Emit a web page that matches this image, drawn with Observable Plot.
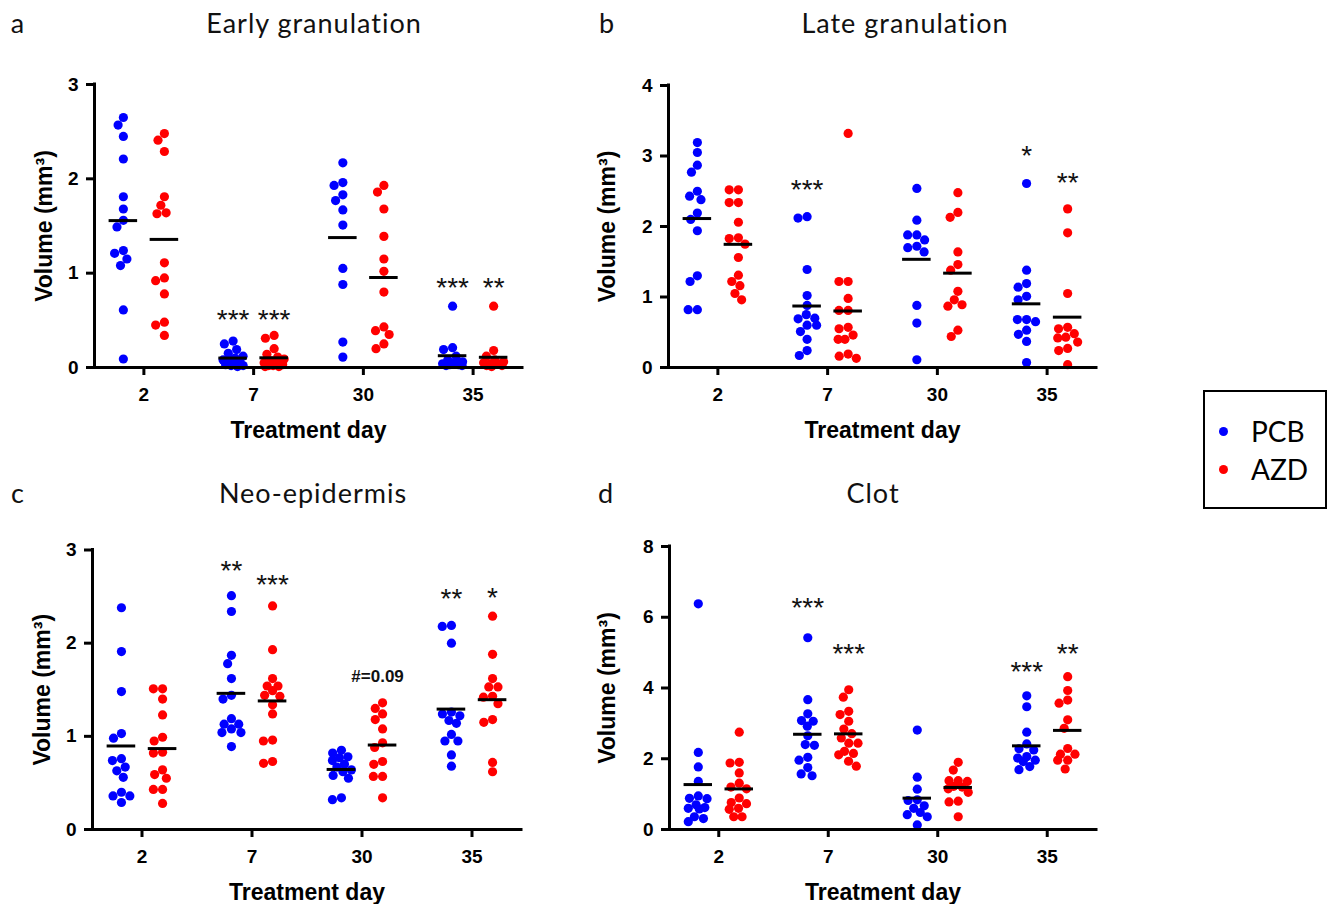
<!DOCTYPE html>
<html>
<head>
<meta charset="utf-8">
<script src="https://cdn.jsdelivr.net/npm/d3@7"></script>
<script src="https://cdn.jsdelivr.net/npm/@observablehq/plot@0.6"></script>
<style>
  html, body { margin: 0; padding: 0; background: #fff; }
  body { width: 1328px; height: 904px; position: relative; overflow: hidden; font-family: "Liberation Sans", Arial, sans-serif; color: #000; }
  .panel { position: absolute; }
  .panel svg { overflow: visible; }
  .title { position: absolute; font-family: Lato, "Open Sans", sans-serif; font-size: 27px; letter-spacing: 1px; color: #111; transform: translate(-50%, -50%); white-space: nowrap; }
  .legend { position: absolute; left: 1203px; top: 390px; width: 124px; height: 119px; border: 2px solid #000; box-sizing: border-box; background: #fff; }
  .legend .row { position: absolute; left: 0; display: flex; align-items: center; font-family: Lato, "Open Sans", sans-serif; font-size: 28px; }
  .legend .sw { width: 9px; height: 9px; border-radius: 50%; margin-left: 14px; margin-right: 23px; }
</style>
</head>
<body>
<div id="root"></div>
<script>
// ---------- data ----------
const days = ["2", "7", "30", "35"];
const treatments = ["PCB", "AZD"];
const treatmentColors = ["#0000ff", "#ff0000"];

// Early granulation volume (mm³), one list per treatment day
const earlyPCB = [
  [2.65, 2.57, 2.45, 2.21, 1.81, 1.68, 1.56, 1.49, 1.24, 1.21, 1.15, 1.08, 0.61, 0.09],
  [0.28, 0.25, 0.19, 0.15, 0.12, 0.10, 0.08, 0.06, 0.05, 0.04, 0.03, 0.02, 0.02, 0.01],
  [2.17, 1.96, 1.93, 1.83, 1.77, 1.67, 1.51, 1.05, 0.88, 0.27, 0.11],
  [0.65, 0.21, 0.19, 0.12, 0.08, 0.06, 0.05, 0.04, 0.03, 0.03, 0.02, 0.02]
];
const earlyAZD = [
  [2.48, 2.41, 2.29, 1.81, 1.72, 1.64, 1.63, 1.11, 0.95, 0.92, 0.78, 0.48, 0.45, 0.34],
  [0.34, 0.31, 0.20, 0.14, 0.11, 0.09, 0.07, 0.05, 0.04, 0.03, 0.02, 0.02, 0.01, 0.01],
  [1.93, 1.86, 1.68, 1.39, 1.15, 1.02, 0.80, 0.43, 0.39, 0.35, 0.25, 0.20],
  [0.65, 0.18, 0.12, 0.08, 0.06, 0.05, 0.04, 0.04, 0.03, 0.02, 0.02, 0.01]
];
const earlySig = [
  {day: "7", group: "PCB", label: "***", at: 0.55},
  {day: "7", group: "AZD", label: "***", at: 0.55},
  {day: "35", group: "PCB", label: "***", at: 0.88},
  {day: "35", group: "AZD", label: "**", at: 0.88}
];

// Late granulation
const latePCB = [
  [3.19, 3.05, 2.87, 2.77, 2.50, 2.43, 2.38, 2.19, 2.10, 1.94, 1.30, 1.22, 0.82, 0.82],
  [2.14, 2.12, 1.39, 1.02, 0.88, 0.75, 0.70, 0.69, 0.60, 0.60, 0.51, 0.40, 0.24, 0.17],
  [2.54, 2.09, 1.88, 1.88, 1.81, 1.72, 1.70, 1.64, 0.88, 0.63, 0.11],
  [2.61, 1.38, 1.19, 1.14, 1.01, 0.96, 0.68, 0.68, 0.65, 0.53, 0.47, 0.37, 0.07]
];
const lateAZD = [
  [2.52, 2.52, 2.34, 2.34, 2.06, 1.84, 1.83, 1.75, 1.56, 1.31, 1.22, 1.16, 1.05, 0.96],
  [3.32, 1.22, 1.22, 0.98, 0.81, 0.81, 0.57, 0.55, 0.46, 0.40, 0.40, 0.19, 0.16, 0.13],
  [2.48, 2.20, 2.13, 1.64, 1.46, 1.38, 1.08, 0.96, 0.89, 0.87, 0.53, 0.44],
  [2.25, 1.91, 1.05, 0.57, 0.55, 0.48, 0.43, 0.42, 0.36, 0.27, 0.24, 0.04]
];
const lateSig = [
  {day: "7", group: "PCB", label: "***", at: 2.57},
  {day: "35", group: "PCB", label: "*", at: 3.05},
  {day: "35", group: "AZD", label: "**", at: 2.68}
];

// Neo-epidermis
const neoPCB = [
  [2.38, 1.91, 1.48, 1.03, 0.98, 0.76, 0.74, 0.67, 0.63, 0.56, 0.40, 0.36, 0.36, 0.29],
  [2.51, 2.34, 1.87, 1.78, 1.62, 1.44, 1.40, 1.19, 1.13, 1.13, 1.08, 1.04, 1.04, 0.89],
  [0.85, 0.82, 0.78, 0.77, 0.74, 0.70, 0.67, 0.64, 0.62, 0.58, 0.55, 0.34, 0.32],
  [2.19, 2.18, 2.00, 1.26, 1.24, 1.22, 1.17, 1.14, 1.02, 0.95, 0.95, 0.80, 0.68]
];
const neoAZD = [
  [1.51, 1.51, 1.40, 1.23, 0.99, 0.95, 0.83, 0.82, 0.64, 0.59, 0.55, 0.43, 0.43, 0.28],
  [2.40, 1.93, 1.62, 1.54, 1.54, 1.49, 1.44, 1.43, 1.34, 1.24, 0.96, 0.95, 0.73, 0.71],
  [1.36, 1.30, 1.24, 1.18, 1.08, 0.93, 0.88, 0.73, 0.70, 0.57, 0.57, 0.34],
  [2.29, 1.88, 1.62, 1.53, 1.53, 1.43, 1.42, 1.35, 1.18, 1.15, 0.72, 0.62]
];
const neoSig = [
  {day: "7", group: "PCB", label: "**", at: 2.82},
  {day: "7", group: "AZD", label: "***", at: 2.67},
  {day: "30", group: "AZD", label: "#=0.09", at: 1.64},
  {day: "35", group: "PCB", label: "**", at: 2.52},
  {day: "35", group: "AZD", label: "*", at: 2.53}
];

// Clot
const clotPCB = [
  [6.38, 2.18, 1.77, 1.36, 0.95, 0.88, 0.87, 0.70, 0.62, 0.60, 0.58, 0.36, 0.31, 0.22],
  [5.42, 3.67, 3.27, 3.08, 3.06, 2.92, 2.65, 2.40, 2.38, 2.04, 1.96, 1.75, 1.57, 1.52],
  [2.81, 1.48, 1.14, 0.84, 0.82, 0.67, 0.60, 0.48, 0.42, 0.36, 0.13],
  [3.78, 3.47, 2.75, 2.42, 2.28, 2.25, 2.06, 2.02, 1.96, 1.92, 1.78, 1.69]
];
const clotAZD = [
  [2.75, 1.90, 1.88, 1.60, 1.31, 1.20, 1.15, 0.89, 0.76, 0.73, 0.60, 0.57, 0.36, 0.36],
  [3.95, 3.74, 3.34, 3.25, 3.06, 2.84, 2.71, 2.59, 2.44, 2.44, 2.21, 2.15, 2.11, 1.93, 1.79],
  [1.90, 1.68, 1.38, 1.38, 1.36, 1.22, 1.20, 1.15, 1.05, 0.80, 0.78, 0.36],
  [4.32, 3.93, 3.66, 3.57, 3.10, 2.86, 2.29, 2.13, 2.13, 1.96, 1.96, 1.71]
];
const clotSig = [
  {day: "7", group: "PCB", label: "***", at: 6.38},
  {day: "7", group: "AZD", label: "***", at: 5.06},
  {day: "35", group: "PCB", label: "***", at: 4.57},
  {day: "35", group: "AZD", label: "**", at: 5.06}
];

const earlyTicks = [0, 1, 2, 3];
const lateTicks = [0, 1, 2, 3, 4];
const neoTicks = [0, 1, 2, 3];
const clotTicks = [0, 2, 4, 6, 8];

// ---------- layout (styling, not data) ----------
const panels = [
  {letter: "a", title: "Early granulation", pcb: earlyPCB, azd: earlyAZD, sig: earlySig, ticks: earlyTicks,
   left: 0, top: 40, width: 540, height: 420, mL: 94, mR: 18, mT: 44, mB: 93, yLabelX: 44, xLabelY: 430,
   letterX: 18, titleX: 314, headY: 22},
  {letter: "b", title: "Late granulation", pcb: latePCB, azd: lateAZD, sig: lateSig, ticks: lateTicks,
   left: 560, top: 40, width: 560, height: 420, mL: 108, mR: 24, mT: 45, mB: 93, yLabelX: 607, xLabelY: 430,
   letterX: 607, titleX: 905, headY: 22},
  {letter: "c", title: "Neo-epidermis", pcb: neoPCB, azd: neoAZD, sig: neoSig, ticks: neoTicks,
   left: 0, top: 500, width: 540, height: 404, mL: 92, mR: 19, mT: 49.5, mB: 75, yLabelX: 42, xLabelY: 892,
   letterX: 18, titleX: 313, headY: 492},
  {letter: "d", title: "Clot", pcb: clotPCB, azd: clotAZD, sig: clotSig, ticks: clotTicks,
   left: 560, top: 500, width: 560, height: 404, mL: 109, mR: 24, mT: 46, mB: 75, yLabelX: 607, xLabelY: 892,
   letterX: 606, titleX: 873, headY: 492}
];

const X_DOMAIN = [-0.45, 3.45];
const GROUP_SHIFT = 0.187;   // blue left / red right of each day tick
const MEAN_HALF = 0.13;      // half-width of mean bar (x units)
const DOT_R = 4.6;
const DOT_SPACING = 9.2;
const SWARM_LIMIT = 10;      // max horizontal spread (px) of a group

// bounded beeswarm: horizontal pixel offsets, overlapping only when a cluster is too dense
function swarm(vals, yPix, d, limit) {
  const order = d3.range(vals.length).sort((a, b) => vals[b] - vals[a]);
  const placed = [];
  const out = new Array(vals.length);
  const minDist = (c, y) => placed.length ? d3.min(placed, p => Math.hypot(p.x - c, p.y - y)) : Infinity;
  for (const i of order) {
    const y = yPix(vals[i]);
    const cands = [0];
    for (const p of placed) {
      const dy = Math.abs(p.y - y);
      if (dy < d) {
        const dx = Math.sqrt(d * d - dy * dy);
        cands.push(p.x + dx, p.x - dx);
      }
    }
    for (let c = -limit; c <= limit; c += 0.5) cands.push(c);
    const inside = cands.filter(c => Math.abs(c) <= limit + 1e-6);
    inside.sort((a, b) => Math.abs(a) - Math.abs(b) || a - b);
    let x = inside.find(c => minDist(c, y) >= d - 1e-6);
    if (x === undefined) {
      let best = -1;
      for (const c of inside) {
        const m = minDist(c, y);
        if (m > best + 0.25) { best = m; x = c; }
      }
    }
    placed.push({x, y});
    out[i] = x;
  }
  return out;
}

const root = document.getElementById("root");

for (const p of panels) {
  const ymax = d3.max(p.ticks);
  const frameW = p.width - p.mL - p.mR;
  const pxPerX = frameW / (X_DOMAIN[1] - X_DOMAIN[0]);
  const yPix = d3.scaleLinear([0, ymax], [p.height - p.mB, p.mT]);

  const dots = [];
  const means = [];
  [p.pcb, p.azd].forEach((groups, t) => {
    groups.forEach((vals, i) => {
      const center = i + (t === 0 ? -GROUP_SHIFT : GROUP_SHIFT);
      const offs = swarm(vals, yPix, DOT_SPACING, SWARM_LIMIT);
      vals.forEach((v, k) => dots.push({treatment: treatments[t], day: days[i], value: v, x: center + offs[k] / pxPerX}));
      means.push({treatment: treatments[t], x1: center - MEAN_HALF, x2: center + MEAN_HALF, mean: d3.mean(vals)});
    });
  });
  const sigRows = p.sig.map(s => ({...s, x: days.indexOf(s.day) + (s.group === "PCB" ? -GROUP_SHIFT : GROUP_SHIFT)}));
  const stars = sigRows.filter(s => !s.label.startsWith("#"));
  const notes = sigRows.filter(s => s.label.startsWith("#"));

  const chart = Plot.plot({
    width: p.width,
    height: p.height,
    marginLeft: p.mL, marginRight: p.mR, marginTop: p.mT, marginBottom: p.mB,
    style: {fontFamily: "'Liberation Sans', Arial, sans-serif", background: "transparent", color: "#000", overflow: "visible"},
    x: {domain: X_DOMAIN},
    y: {domain: [0, ymax]},
    color: {domain: treatments, range: treatmentColors},
    marks: [
      Plot.dot(dots, {x: "x", y: "value", r: DOT_R, fill: "treatment", stroke: null}),
      Plot.ruleY(means, {x1: "x1", x2: "x2", y: "mean", stroke: "#000", strokeWidth: 3}),
      Plot.text(stars, {x: "x", y: "at", text: "label", fontSize: 28, dy: 4, fill: "#111"}),
      Plot.text(notes, {x: "x", y: "at", text: "label", fontSize: 17, fontWeight: "bold", dx: -5, fill: "#111"}),
      Plot.ruleY([0], {stroke: "#000", strokeWidth: 3, strokeLinecap: "square"}),
      Plot.ruleX([X_DOMAIN[0]], {stroke: "#000", strokeWidth: 3, strokeLinecap: "square"}),
      Plot.axisY(p.ticks, {tickSize: 8, tickPadding: 8, strokeWidth: 3, fontSize: 19, fontWeight: "bold", label: null, tickFormat: d => String(d)}),
      Plot.axisX([0, 1, 2, 3], {tickSize: 8, tickPadding: 12, strokeWidth: 3, fontSize: 19, fontWeight: "bold", label: null, tickFormat: i => days[i]}),
      Plot.text(["Treatment day"], {frameAnchor: "bottom", lineAnchor: "middle", textAnchor: "middle", dy: p.xLabelY - (p.top + p.height - p.mB), fontSize: 23, fontWeight: "bold"}),
      Plot.text(["Volume (mm³)"], {frameAnchor: "left", lineAnchor: "middle", textAnchor: "middle", rotate: -90, dx: p.yLabelX - (p.left + p.mL), fontSize: 23, fontWeight: "bold"})
    ]
  });
  const wrap = document.createElement("div");
  wrap.className = "panel";
  wrap.style.left = p.left + "px";
  wrap.style.top = p.top + "px";
  wrap.appendChild(chart);
  root.appendChild(wrap);

  const letter = document.createElement("div");
  letter.className = "title";
  letter.style.left = p.letterX + "px";
  letter.style.top = p.headY + "px";
  letter.textContent = p.letter;
  root.appendChild(letter);

  const title = document.createElement("div");
  title.className = "title";
  title.style.left = p.titleX + "px";
  title.style.top = p.headY + "px";
  title.textContent = p.title;
  root.appendChild(title);
}

// legend
const legend = document.createElement("div");
legend.className = "legend";
treatments.forEach((t, i) => {
  const row = document.createElement("div");
  row.className = "row";
  row.style.top = (i === 0 ? 22 : 60) + "px";
  row.innerHTML = `<span class="sw" style="background:${treatmentColors[i]}"></span><span>${t}</span>`;
  legend.appendChild(row);
});
root.appendChild(legend);
</script>
</body>
</html>
